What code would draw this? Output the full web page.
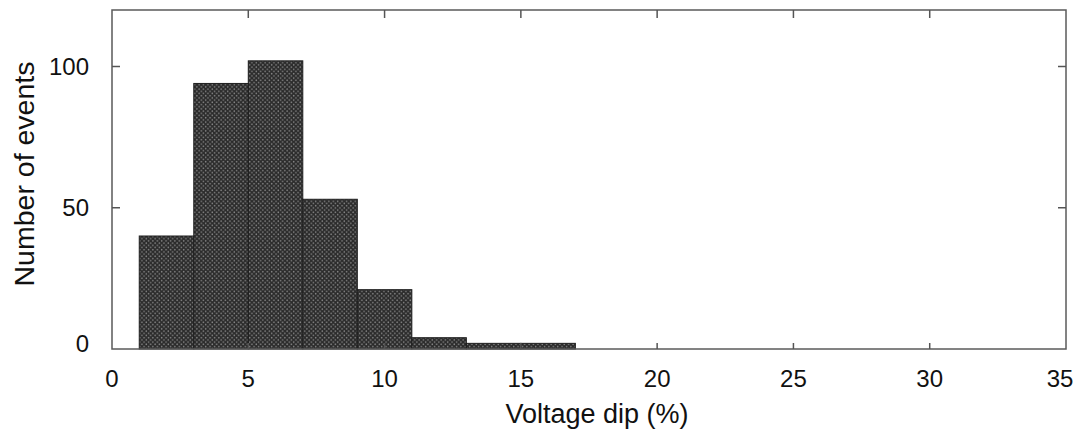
<!DOCTYPE html>
<html>
<head>
<meta charset="utf-8">
<script src="https://cdn.jsdelivr.net/npm/d3@7"></script>
<style>
  body { margin: 0; background: #fff; }
  svg text { font-family: "Liberation Sans", Arial, sans-serif; fill: #111; }
</style>
</head>
<body>
<div id="chart"></div>
<script>
var w = 1077;
var h = 436;
var margin = { top: 10, right: 11, bottom: 87, left: 112 };

// histogram bins (voltage dip %) and counts
var binStart = [1, 3, 5, 7, 9, 11, 13, 15];
var binEnd = [3, 5, 7, 9, 11, 13, 15, 17];
var counts = [40, 94, 102, 53, 21, 4, 2, 2];

var xTicks = [0, 5, 10, 15, 20, 25, 30, 35];
var yTicks = [0, 50, 100];

var svg = d3
  .select("#chart")
  .append("svg")
  .attr("width", w)
  .attr("height", h);

var xScale = d3
  .scaleLinear()
  .domain([0, 35])
  .range([margin.left, w - margin.right]);

var yScale = d3
  .scaleLinear()
  .domain([0, 120])
  .range([h - margin.bottom, margin.top]);

// dotted fill like the printed histogram
var pat = svg
  .append("defs")
  .append("pattern")
  .attr("id", "dots")
  .attr("patternUnits", "userSpaceOnUse")
  .attr("width", 4.4)
  .attr("height", 4.4);
pat.append("rect").attr("width", 4.4).attr("height", 4.4).attr("fill", "#2b2b2b");
pat.append("circle").attr("cx", 1.1).attr("cy", 1.1).attr("r", 0.8).attr("fill", "#858585");
pat.append("circle").attr("cx", 3.3).attr("cy", 3.3).attr("r", 0.8).attr("fill", "#858585");

var bins = counts.map(function(c, i) {
  return { x0: binStart[i], x1: binEnd[i], n: c };
});

svg
  .append("g")
  .selectAll("rect")
  .data(bins)
  .enter()
  .append("rect")
  .attr("x", function(d) { return xScale(d.x0); })
  .attr("y", function(d) { return yScale(d.n); })
  .attr("width", function(d) { return xScale(d.x1) - xScale(d.x0); })
  .attr("height", function(d) { return yScale(0) - yScale(d.n); })
  .attr("fill", "url(#dots)")
  .attr("stroke", "#1e1e1e")
  .attr("stroke-width", 1);

// frame
svg
  .append("rect")
  .attr("x", xScale(0))
  .attr("y", yScale(120))
  .attr("width", xScale(35) - xScale(0))
  .attr("height", yScale(0) - yScale(120))
  .attr("fill", "none")
  .attr("stroke", "#5a5a5a")
  .attr("stroke-width", 1.5);

// inward ticks on all sides
var tickLen = 8;
var inner = xTicks.slice(1, -1);
var ticks = svg.append("g").attr("stroke", "#555").attr("stroke-width", 1.5);
inner.forEach(function(t) {
  ticks.append("line")
    .attr("x1", xScale(t)).attr("x2", xScale(t))
    .attr("y1", yScale(120)).attr("y2", yScale(120) + tickLen);
  ticks.append("line")
    .attr("x1", xScale(t)).attr("x2", xScale(t))
    .attr("y1", yScale(0)).attr("y2", yScale(0) - 6);
});
yTicks.slice(1).forEach(function(t) {
  ticks.append("line")
    .attr("x1", xScale(0)).attr("x2", xScale(0) + tickLen)
    .attr("y1", yScale(t)).attr("y2", yScale(t));
  ticks.append("line")
    .attr("x1", xScale(35)).attr("x2", xScale(35) - tickLen)
    .attr("y1", yScale(t)).attr("y2", yScale(t));
});

// tick labels (last one pulled in so it stays on the page)
svg
  .append("g")
  .selectAll("text")
  .data(xTicks)
  .enter()
  .append("text")
  .attr("x", function(d) { return xScale(d); })
  .attr("dx", function(d) { return d === 35 ? -6 : 0; })
  .attr("y", 387)
  .attr("text-anchor", "middle")
  .style("font-size", "24px")
  .text(function(d) { return d; });

svg
  .append("g")
  .selectAll("text")
  .data(yTicks)
  .enter()
  .append("text")
  .attr("x", 89)
  .attr("y", function(d) { return d === 0 ? yScale(d) - 6 : yScale(d); })
  .attr("dy", "0.36em")
  .attr("text-anchor", "end")
  .style("font-size", "24px")
  .text(function(d) { return d; });

// axis titles
svg
  .append("text")
  .attr("x", 597)
  .attr("y", 423)
  .attr("text-anchor", "middle")
  .style("font-size", "27px")
  .text("Voltage dip (%)");

svg
  .append("text")
  .attr("transform", "translate(34,174) rotate(-90)")
  .attr("text-anchor", "middle")
  .style("font-size", "28.5px")
  .text("Number of events");
</script>
</body>
</html>
